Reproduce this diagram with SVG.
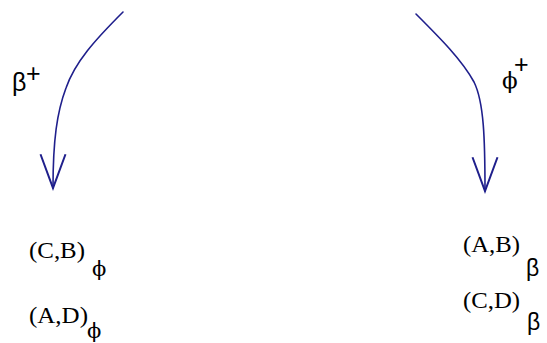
<svg xmlns="http://www.w3.org/2000/svg" width="547" height="343" viewBox="0 0 547 343">
<style>
.arc{fill:none;stroke:#1f1f8c;stroke-width:1.6;stroke-linecap:round;stroke-linejoin:round}
.g{font-family:"Liberation Sans",Arial,sans-serif;fill:#000}
.s{font-family:"Liberation Serif","Times New Roman",serif;fill:#000}
.p{font-family:"DejaVu Serif","Liberation Serif",serif;fill:#000}
</style>
<defs>
<marker id="vee" markerUnits="userSpaceOnUse" markerWidth="40" markerHeight="30" viewBox="-30 -12 32 24" refX="0" refY="0" orient="auto" overflow="visible">
<path d="M-27,-10 L0,0 L-27,10" fill="none" stroke="#1f1f8c" stroke-width="1.6" stroke-linejoin="miter"/>
</marker>
</defs>
<rect width="547" height="343" fill="#fff"/>
<g id="connectors">
<path id="beta-arrow" class="arc" d="M123,12 C95,40 75,62 66,88 C57,112 53,140 53,188" marker-end="url(#vee)"/>
<path id="phi-arrow" class="arc" d="M416,14 C440,38 462,60 474,82 C484,102 485,140 485,191" marker-end="url(#vee)"/>
</g>
<g id="label-beta-plus">
<text class="g" x="12" y="91" font-size="25">β</text>
<text class="g" x="26" y="82" font-size="25">+</text>
</g>
<g id="label-phi-plus">
<text class="p" x="502" y="88" font-size="23">ϕ</text>
<text class="g" x="514" y="73" font-size="25">+</text>
</g>
<g id="node-CB">
<text class="s" x="29" y="258" font-size="23" textLength="56" lengthAdjust="spacingAndGlyphs">(C,B)</text>
<text class="p" x="92" y="276" font-size="21">ϕ</text>
</g>
<g id="node-AD">
<text class="s" x="29" y="323" font-size="23" textLength="59" lengthAdjust="spacingAndGlyphs">(A,D)</text>
<text class="p" x="87" y="338" font-size="21">ϕ</text>
</g>
<g id="node-AB">
<text class="s" x="463" y="252" font-size="23" textLength="57" lengthAdjust="spacingAndGlyphs">(A,B)</text>
<text class="g" x="526" y="276" font-size="23">β</text>
</g>
<g id="node-CD">
<text class="s" x="463" y="308" font-size="23" textLength="57" lengthAdjust="spacingAndGlyphs">(C,D)</text>
<text class="g" x="527" y="330" font-size="23">β</text>
</g>
</svg>
